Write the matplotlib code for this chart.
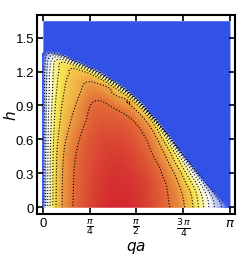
import numpy as np
import matplotlib
matplotlib.use('Agg')
import matplotlib.pyplot as plt
import matplotlib.tri as mtri
from matplotlib.colors import LinearSegmentedColormap

# columns in qa, and the upper edge h of the coloured region read at each column
qa = np.array([0, 0.03, 0.07, 0.13, 0.22, 0.35, 0.55, 0.85, 1.2, 1.55,
               1.85, 2.1, 2.3, 2.5, 2.7, 2.9, 3.05])
h_edge = np.array([1.36, 1.37, 1.38, 1.38, 1.37, 1.35, 1.30, 1.23, 1.12, 0.98,
                   0.81, 0.65, 0.51, 0.38, 0.25, 0.13, 0.05])
qa_end, h_end = np.pi, 0.0   # the edge reaches h = 0 at qa = pi
h_top = 1.65

# rows: fraction of the edge height, h = s * h_edge
s_frac = np.array([0, 0.35, 0.6, 0.78, 0.89, 0.95, 0.985, 1.0])

# estimated values (one list per row of s_frac)
row_s000 = [0, 0.14, 0.27, 0.42, 0.60, 0.72, 0.82, 0.91, 0.96, 0.94, 0.88, 0.81, 0.74, 0.62, 0.40, 0.18, 0.06]
row_s035 = [0, 0.14, 0.26, 0.41, 0.58, 0.70, 0.80, 0.88, 0.92, 0.90, 0.85, 0.78, 0.70, 0.58, 0.37, 0.17, 0.06]
row_s060 = [0, 0.12, 0.24, 0.37, 0.53, 0.63, 0.73, 0.84, 0.87, 0.85, 0.79, 0.71, 0.62, 0.48, 0.31, 0.14, 0.05]
row_s078 = [0, 0.11, 0.22, 0.34, 0.48, 0.59, 0.67, 0.79, 0.80, 0.79, 0.73, 0.62, 0.50, 0.36, 0.23, 0.10, 0.03]
row_s089 = [0, 0.10, 0.20, 0.32, 0.45, 0.55, 0.64, 0.71, 0.70, 0.69, 0.64, 0.50, 0.38, 0.25, 0.16, 0.07, 0.02]
row_s095 = [0, 0.08, 0.16, 0.26, 0.40, 0.50, 0.57, 0.59, 0.58, 0.56, 0.52, 0.38, 0.27, 0.15, 0.10, 0.04, 0.01]
row_s098 = [0, 0.04, 0.08, 0.13, 0.19, 0.23, 0.26, 0.27, 0.27, 0.26, 0.24, 0.18, 0.11, 0.06, 0.04, 0.02, 0.01]
row_s100 = [0] * 17

levels = [0.1, 0.2, 0.3, 0.4, 0.5, 0.6, 0.7, 0.8]

field = np.array([row_s000, row_s035, row_s060, row_s078,
                  row_s089, row_s095, row_s098, row_s100])
nr, nc = field.shape
Q = np.tile(qa, (nr, 1))
H = np.outer(s_frac, h_edge)

# triangulate the curved grid, closing it with the end point at qa = pi
x = np.append(Q.ravel(), qa_end)
y = np.append(H.ravel(), h_end)
z = np.append(field.ravel(), 0.0)
end = nr * nc
tris = []
for j in range(nr - 1):
    for i in range(nc - 1):
        a, b = j * nc + i, j * nc + i + 1
        c, d = (j + 1) * nc + i, (j + 1) * nc + i + 1
        tris.append([a, b, d])
        tris.append([a, d, c])
    tris.append([j * nc + nc - 1, end, (j + 1) * nc + nc - 1])
tri = mtri.Triangulation(x, y, np.array(tris))
refiner = mtri.UniformTriRefiner(tri)
tri_f, z_f = refiner.refine_field(z, subdiv=3,
                                  triinterpolator=mtri.CubicTriInterpolator(tri, z, kind='geom'))

blue = '#3251e6'
cmap = LinearSegmentedColormap.from_list('bwyr', [
    (0.0, blue), (0.12, '#a8b8f2'), (0.3, '#ffffff'), (0.45, '#f9f3a0'),
    (0.56, '#f6e852'), (0.7, '#f0b245'), (0.83, '#e47238'), (1.0, '#d3282f')])

plt.rcParams['font.family'] = ['Liberation Sans', 'DejaVu Sans']

fig = plt.figure(figsize=(2.53, 2.55), dpi=100)
ax = fig.add_axes([0.146, 0.157, 0.783, 0.78])

ax.fill_between(np.append(qa, qa_end), np.append(h_edge, h_end), h_top,
                color=blue, lw=0)
ax.tripcolor(tri_f, z_f, cmap=cmap, vmin=0, vmax=0.96, shading='gouraud')
ax.tricontour(tri_f, z_f, levels=levels, colors='k', linewidths=0.8,
              linestyles='dotted')

ax.set_xlim(-0.1, np.pi + 0.085)
ax.set_ylim(-0.06, 1.70)
ax.set_xticks([0, np.pi / 4, np.pi / 2, 3 * np.pi / 4, np.pi])
ax.set_xticklabels(['0', r'$\frac{\pi}{4}$', r'$\frac{\pi}{2}$',
                    r'$\frac{3\,\pi}{4}$', r'$\pi$'])
ax.set_yticks([0, 0.3, 0.6, 0.9, 1.2, 1.5])
ax.set_yticklabels(['0', '0.3', '0.6', '0.9', '1.2', '1.5'])
ax.tick_params(direction='in', top=True, right=True, width=1.2, length=4,
               labelsize=9.5, pad=2)
for sp in ax.spines.values():
    sp.set_linewidth(1.5)

ax.set_xlabel('$qa$', fontsize=11)
ax.set_ylabel('$h$', fontsize=11)
ax.xaxis.set_label_coords(0.5, -0.128)
ax.yaxis.set_label_coords(-0.09, 0.5)

fig.savefig('out.png', dpi=100)
